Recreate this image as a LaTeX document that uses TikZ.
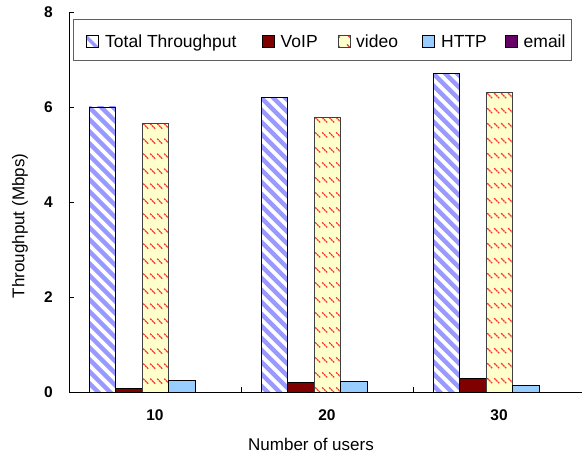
\documentclass[tikz,border=0pt]{standalone}
\usepackage{fontspec}
\setmainfont{Liberation Sans}
\definecolor{stripeblue}{HTML}{9999FF}
\definecolor{voipred}{HTML}{800000}
\definecolor{vidfill}{HTML}{FFFFCC}
\definecolor{viddash}{HTML}{FF3333}
\definecolor{httpblue}{HTML}{99CCFF}
\definecolor{emailpurple}{HTML}{660066}
\definecolor{legframe}{HTML}{606060}

% bar width, baseline and vertical scale (pt per Mbps)
\newcommand\bw{26.6}
\newcommand\yb{62}
\newcommand\ys{47.5}

% hatched bar: #1 left edge, #2 value
\newcommand\totbar[2]{%
  \pgfmathsetmacro\tbtop{\yb+\ys*#2}%
  \fill[white] (#1,\yb) rectangle ({#1+\bw},\tbtop);
  \begin{scope}
    \clip (#1,\yb) rectangle ({#1+\bw},\tbtop);
    \foreach \k in {-4,...,32}{
      \draw[stripeblue, line width=4.4pt] ({#1-10},{\tbtop+10-12*\k}) -- ++(50,-50);
    }
  \end{scope}
  \draw[barline] (#1,\yb) rectangle ({#1+\bw},\tbtop);
}

% yellow bar with rows of short red dashes
\newcommand\vidbar[2]{%
  \pgfmathsetmacro\vbtop{\yb+\ys*#2}%
  \fill[vidfill] (#1,\yb) rectangle ({#1+\bw},\vbtop);
  \begin{scope}
    \clip (#1,\yb) rectangle ({#1+\bw},\vbtop);
    \foreach \j in {0,...,22}{
      \foreach \i in {0,...,3}{
        \draw[viddash, line width=1.3pt, dash pattern=on 2pt off 0.6pt]
          ({#1+1+7*\i},{\vbtop-0.5-15*\j}) -- ++(5,-5);
      }
    }
  \end{scope}
  \draw[vidline] (#1,\yb) rectangle ({#1+\bw},\vbtop);
}

% plain coloured bar
\newcommand\plainbar[3]{%
  \pgfmathsetmacro\pbtop{\yb+\ys*#2}%
  \filldraw[fill=#3, barline] (#1,\yb) rectangle ({#1+\bw},\pbtop);
}

\begin{document}
\begin{tikzpicture}[x=1pt,y=1pt,
  axisline/.style={line width=0.8pt, black},
  barline/.style={line width=0.7pt, draw=black},
  vidline/.style={line width=0.7pt, draw=black!75},
  ticklabel/.style={font=\fontsize{15.5}{18}\selectfont\bfseries, inner sep=0pt},
  axistitle/.style={font=\fontsize{17}{20}\selectfont, inner sep=0pt},
  legtext/.style={font=\fontsize{17.5}{21}\selectfont, inner sep=0pt, anchor=base west},
  legmark/.style={line width=0.6pt, draw=black}
]
\useasboundingbox (0,0) rectangle (582,454);

% bars, three groups of users
\foreach \g/\tot/\voip/\vid/\http in {0/6.0/0.08/5.66/0.24, 1/6.2/0.2/5.79/0.22, 2/6.71/0.29/6.3/0.13}{
  \pgfmathsetmacro\gl{89+172*\g}
  \totbar{\gl}{\tot}
  \plainbar{\gl+\bw}{\voip}{voipred}
  \vidbar{\gl+2*\bw}{\vid}
  \plainbar{\gl+3*\bw}{\http}{httpblue}
}

% axes and ticks
\draw[axisline] (69,442) -- (69,\yb) -- (582,\yb);
\foreach \v in {0,2,4,6,8}{
  \draw[axisline] (69,{\yb+\ys*\v}) -- ++(5,0);
  \node[ticklabel, anchor=east] (yl\v) at (53,{\yb+\ys*\v}) {\v};
}
\foreach \x in {241,413}{
  \draw[axisline] (\x,\yb) -- ++(0,5);
}
\node[ticklabel] (xl10) at (155,39) {10};
\node[ticklabel] (xl20) at (327,39) {20};
\node[ticklabel] (xl30) at (499,39) {30};

\node[axistitle] (xtitle) at (311,10) {Number of users};
\node[axistitle, rotate=90] (ytitle) at (20,228) {Throughput (Mbps)};

% legend
\draw[legframe, line width=0.8pt] (73,394) rectangle (571,435);
\def\lmy{406.5}
% hatched marker
\begin{scope}
  \clip (86.7,\lmy) rectangle ++(12,12);
  \fill[white] (86.7,\lmy) rectangle ++(12,12);
  \draw[stripeblue, line width=3.5pt] (84,{\lmy+13}) -- ++(16,-16);
\end{scope}
\draw[legmark] (86.7,\lmy) rectangle ++(12,12);
\node[legtext] (lt1) at (105,406) {Total Throughput};
\filldraw[legmark, fill=voipred] (262.7,\lmy) rectangle ++(12,12);
\node[legtext] (lt2) at (280.5,406) {VoIP};
% dashed marker
\fill[vidfill] (338,\lmy) rectangle ++(12,12);
\begin{scope}
  \clip (338,\lmy) rectangle ++(12,12);
  \draw[viddash, line width=1.2pt] (337,{\lmy+13}) -- ++(3,-3);
  \draw[viddash, line width=1.2pt] (347,{\lmy+3}) -- ++(3,-3);
  \draw[viddash, line width=1.2pt] (347,{\lmy+13}) -- ++(3,-3);
  \draw[viddash, line width=1.2pt] (337,{\lmy+3}) -- ++(3,-3);
\end{scope}
\draw[legmark, draw=black!75] (338,\lmy) rectangle ++(12,12);
\node[legtext] (lt3) at (356,406) {video};
\filldraw[legmark, fill=httpblue] (422.7,\lmy) rectangle ++(12,12);
\node[legtext] (lt4) at (441,406) {HTTP};
\filldraw[legmark, fill=emailpurple] (505.7,\lmy) rectangle ++(12,12);
\node[legtext] (lt5) at (523.5,406) {email};
\end{tikzpicture}
\end{document}
